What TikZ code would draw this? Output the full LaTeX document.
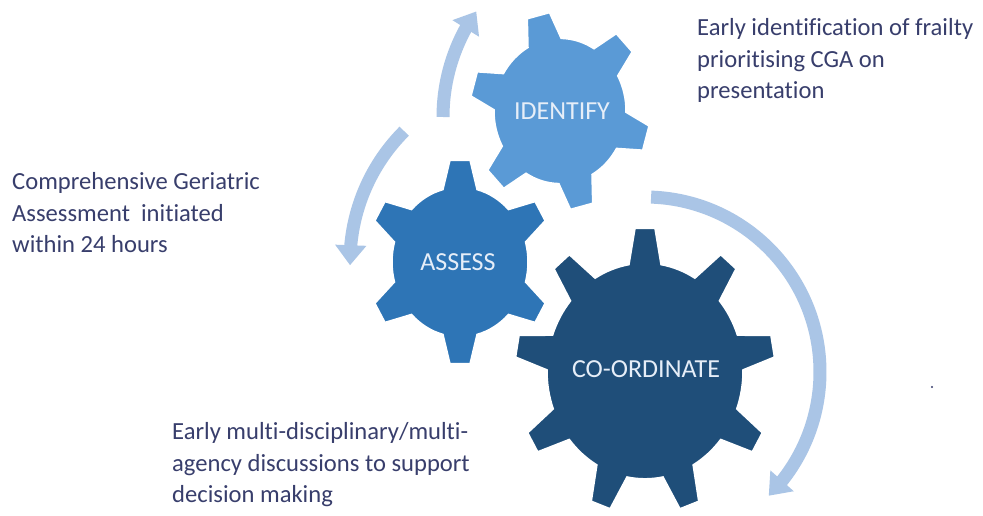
\documentclass[tikz,border=0pt]{standalone}
\usepackage{fontspec}
\setmainfont[Ligatures=NoCommon]{Carlito}
\usetikzlibrary{arrows.meta,bending}

\definecolor{idblue}{HTML}{5A9AD6}
\definecolor{asblue}{HTML}{2E75B6}
\definecolor{coblue}{HTML}{1F4E79}
\definecolor{arrowblue}{HTML}{AAC5E6}
\definecolor{textcol}{HTML}{383E6C}
\definecolor{labelcol}{HTML}{E6EEF8}

% #1 centre, #2 number of teeth, #3 angle of first tooth, #4 body radius,
% #5 tip radius, #6 half-angle of a tooth at its root, #7 half-angle at its tip, #8 colour
\newcommand\cogwheel[8]{%
  \begin{scope}[shift={#1}, yscale=1.1]
    \pgfmathsetmacro\cwstep{360/#2}
    \pgfmathtruncatemacro\cwlast{#2-1}
    \fill[#8, draw=white, line width=1.5] ({#3-#6}:#4)
      \foreach \k in {0,...,\cwlast}{
        -- ({#3+\k*\cwstep-#7}:#5) -- ({#3+\k*\cwstep+#7}:#5) -- ({#3+\k*\cwstep+#6}:#4)
        arc[start angle={#3+\k*\cwstep+#6}, end angle={#3+(\k+1)*\cwstep-#6}, radius=#4]
      } -- cycle;
  \end{scope}}

\tikzset{
  gearlabel/.style={text=labelcol, font=\fontsize{26}{30}\selectfont, inner sep=0},
  note/.style={text=textcol, font=\fontsize{24.6}{31.8}\selectfont, align=left,
    anchor=north west, inner sep=0},
  cyclearrow/.style={draw=arrowblue, line width=13,
    -{Triangle[width=30pt,length=20pt]}},
}

\begin{document}
\begin{tikzpicture}[x=1pt,y=1pt]
  \fill[white] (0,0) rectangle (983,515);
  \useasboundingbox (0,0) rectangle (983,515);

  % the three cogwheels
  \cogwheel{(560,404)}{6}{104}{66}{90}{15}{7.3}{idblue}
  \cogwheel{(460,253)}{6}{90}{68}{93}{14.5}{6.2}{asblue}
  \cogwheel{(645,144)}{9}{90}{98}{130}{9.4}{4.4}{coblue}

  \node[gearlabel] (identify) at (562,404) {IDENTIFY};
  \node[gearlabel] (assess) at (458,253) {ASSESS};
  \node[gearlabel] (coord) at (646,146) {CO-ORDINATE};

  % cycle arrows
  \coordinate (a1) at (443,398);
  \coordinate (a2) at (404.2,383.8);
  \coordinate (a3) at (651.1,317.9);
  \draw[cyclearrow] (a1) arc[start angle=180, end angle=145, radius=184];
  \draw[cyclearrow] (a2) arc[start angle=135, end angle=181, radius=185];
  \draw[cyclearrow] (a3) arc[start angle=88, end angle=-45, radius=175];

  % notes
  \node[note] (n1) at (697,497) {Early identification of frailty\\prioritising CGA on\\presentation};
  \node[note] (n2) at (12,343) {Comprehensive Geriatric\\Assessment\ \ initiated\\within 24 hours};
  \node[note] (n3) at (172,93) {Early multi-disciplinary/multi-\\agency discussions to support\\decision making};

  \fill[textcol] (932,128) circle[radius=1.2];
\end{tikzpicture}
\end{document}
